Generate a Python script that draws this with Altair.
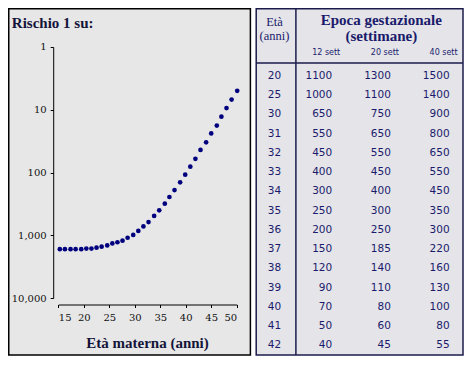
import altair as alt
import pandas as pd

# ---------------- data ----------------
ages = [15.3, 16.3, 17.4, 18.4, 19.5, 20.5, 21.5, 22.5, 23.5, 24.6, 25.6, 26.6,
        27.6, 28.6, 29.7, 30.7, 31.7, 32.7, 33.8, 34.8, 35.9, 36.8, 37.8, 38.9,
        39.9, 40.9, 41.9, 42.9, 44.0, 45.0, 46.1, 47.0, 48.0, 49.0, 50.1]
risk = [1660, 1660, 1660, 1660, 1660, 1625, 1625, 1570, 1515, 1443, 1345, 1286,
        1213, 1092, 984, 848, 720, 614, 491, 399, 313, 245, 190, 143,
        108, 80.5, 60.4, 43.6, 33, 23.8, 17.9, 12.9, 9.4, 6.9, 5.0]

x_ticks = [15, 20, 25, 30, 35, 40, 45, 50]
y_ticks = [1, 10, 100, 1000, 10000]

table_ages = [20, 25, 30, 31, 32, 33, 34, 35, 36, 37, 38, 39, 40, 41, 42]
week_cols = ["12 sett", "20 sett", "40 sett"]
w12 = [1100, 1000, 650, 550, 450, 400, 300, 250, 200, 150, 120, 90, 70, 50, 40]
w20 = [1300, 1100, 750, 650, 550, 450, 400, 300, 250, 185, 140, 110, 80, 60, 45]
w40 = [1500, 1400, 900, 800, 650, 550, 450, 350, 300, 220, 160, 130, 100, 80, 55]

# ---------------- layout helpers ----------------
W, H = 456, 348
SX = W / 474
SY = H / 367


def X(v):
    return round(v * SX, 1)


def Y(v):
    return round(v * SY, 1)


NAVY = "#1b1b6b"

df_pts = pd.DataFrame({"age": ages, "risk": risk})
row_labels = [str(a) for a in table_ages]
rows = []
for i, a in enumerate(table_ages):
    for c, vals in zip(week_cols, [w12, w20, w40]):
        rows.append({"row": str(a), "col": c, "val": str(vals[i])})
df_tab = pd.DataFrame(rows)
df_ages = pd.DataFrame({"row": row_labels})
df_cols = pd.DataFrame({"col": week_cols})

one = alt.Chart(pd.DataFrame({"k": [0]}))

# panels
left_bg = one.mark_rect(fill="#e7e7e7", stroke="#000000", strokeWidth=1.5).encode(
    x=alt.value(0.75), x2=alt.value(X(252)), y=alt.value(0.75), y2=alt.value(Y(366)))
right_bg = one.mark_rect(fill="#e4e4e9", stroke="#1c1c4c", strokeWidth=1.5).encode(
    x=alt.value(X(258)), x2=alt.value(X(473)), y=alt.value(0.75), y2=alt.value(Y(366)))
vline = one.mark_rule(color="#1c1c4c", strokeWidth=1.5).encode(
    x=alt.value(X(299.3)), y=alt.value(0.75), y2=alt.value(Y(366)))
hline = one.mark_rule(color="#1c1c4c", strokeWidth=1.5).encode(
    y=alt.value(Y(58)), x=alt.value(X(258)), x2=alt.value(X(473)))

# scatter
pts = alt.Chart(df_pts).mark_circle(size=22, color="#00007f", opacity=1).encode(
    x=alt.X("age:Q",
            scale=alt.Scale(domain=[15, 50], range=[X(52.3), X(237.7)], nice=False, zero=False),
            axis=alt.Axis(values=x_ticks, offset=-(H - Y(312.7)), title=None, grid=False,
                          tickSize=3, labelPadding=5, labelFont="DejaVu Serif", labelFontSize=10,
                          labelColor="#111111", domainColor="#000000", tickColor="#000000",
                          zindex=1)),
    y=alt.Y("risk:Q",
            scale=alt.Scale(type="log", domain=[1, 10000], range=[Y(41), Y(306)]),
            axis=alt.Axis(values=y_ticks, format=",", offset=-X(47), title=None, grid=False,
                          tickSize=3, labelPadding=4, labelFont="DejaVu Serif", labelFontSize=10,
                          labelColor="#111111", domainColor="#000000", tickColor="#000000",
                          zindex=1)),
)

title_l = one.mark_text(align="left", baseline="middle", font="Liberation Serif",
                        fontSize=15, fontWeight="bold", color="#14143a").encode(
    text=alt.value("Rischio 1 su:"), x=alt.value(X(4)), y=alt.value(Y(16)))
xtitle = one.mark_text(align="center", baseline="middle", font="Liberation Serif",
                       fontSize=15, fontWeight="bold", color="#14143a").encode(
    text=alt.value("Età materna (anni)"), x=alt.value(X(145)), y=alt.value(Y(353)))

# table
hdr1 = one.mark_text(align="center", baseline="middle", font="Liberation Serif",
                     fontSize=15, fontWeight="bold", color=NAVY).encode(
    text=alt.value("Epoca gestazionale"), x=alt.value(X(388)), y=alt.value(Y(13)))
hdr2 = one.mark_text(align="center", baseline="middle", font="Liberation Serif",
                     fontSize=15, fontWeight="bold", color=NAVY).encode(
    text=alt.value("(settimane)"), x=alt.value(X(388)), y=alt.value(Y(29)))
eta1 = one.mark_text(align="center", baseline="middle", font="Liberation Serif",
                     fontSize=12.5, color=NAVY).encode(
    text=alt.value("Età"), x=alt.value(X(277)), y=alt.value(Y(15)))
eta2 = one.mark_text(align="center", baseline="middle", font="Liberation Serif",
                     fontSize=12.5, color=NAVY).encode(
    text=alt.value("(anni)"), x=alt.value(X(277)), y=alt.value(Y(30)))

col_scale = alt.Scale(type="point", range=[X(337), X(459)], padding=0)
row_scale = alt.Scale(type="point", range=[Y(71.7), Y(355.7)], padding=0)

sub_hdr = alt.Chart(df_cols).mark_text(align="center", baseline="middle", font="DejaVu Sans",
                                       fontSize=8, color=NAVY, dx=-6).encode(
    x=alt.X("col:N", sort=week_cols, scale=col_scale, axis=None),
    y=alt.value(Y(47)), text="col:N")

age_col = alt.Chart(df_ages).mark_text(align="center", baseline="middle", font="DejaVu Sans",
                                       fontSize=10.5, color=NAVY).encode(
    x=alt.value(X(277)),
    y=alt.Y("row:N", sort=row_labels, scale=row_scale, axis=None),
    text="row:N")

vals = alt.Chart(df_tab).mark_text(align="right", baseline="middle", font="DejaVu Sans",
                                   fontSize=10.5, color=NAVY).encode(
    x=alt.X("col:N", sort=week_cols, scale=col_scale, axis=None),
    y=alt.Y("row:N", sort=row_labels, scale=row_scale, axis=None),
    text="val:N")

chart = alt.layer(
    left_bg, right_bg, vline, hline, pts, title_l, xtitle,
    hdr1, hdr2, eta1, eta2, sub_hdr, age_col, vals
).resolve_scale(x="independent", y="independent").properties(
    width=W, height=H, padding=0, autosize=alt.AutoSizeParams(type="none"),
    background="#ffffff"
).configure_view(strokeWidth=0)

chart.save("out.html", embed_options={"renderer": "svg", "actions": False})
